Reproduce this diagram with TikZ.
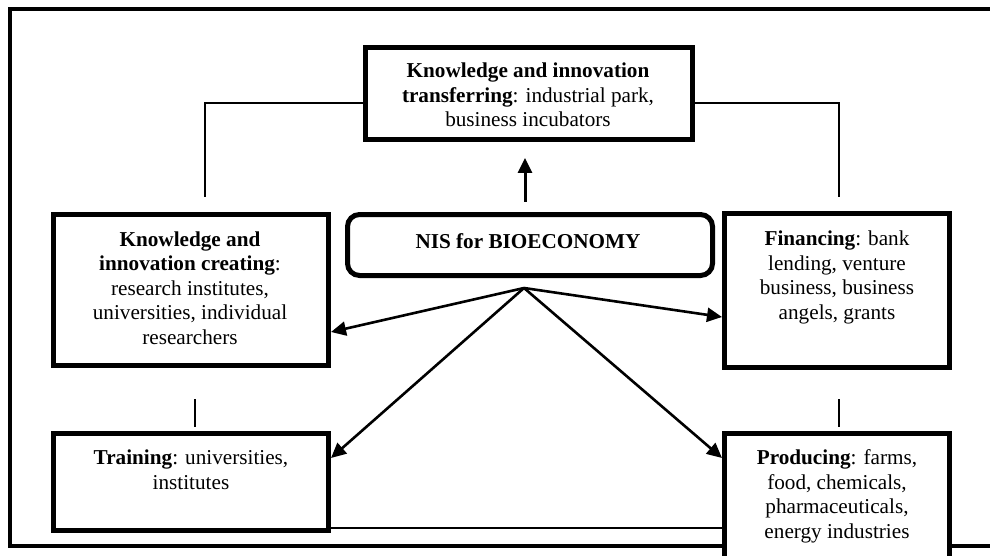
\documentclass[tikz,border=0pt]{standalone}
\usepackage{fontspec}
\setmainfont{Liberation Serif}
\usetikzlibrary{arrows.meta,calc}
\begin{document}
\begin{tikzpicture}[x=1pt,y=-1pt,
  box/.style={draw, line width=5pt, fill=white, inner sep=0pt},
  txt/.style={font=\fontsize{21.2}{24.5}\selectfont, align=center, anchor=base, inner sep=0pt},
  thinline/.style={line width=1.5pt},
  arr/.style={line width=2.6pt, -{Triangle[length=15pt,width=14pt]}},
  uparr/.style={line width=3pt, -{Triangle[length=15pt,width=14pt]}}]
\useasboundingbox (0,0) rectangle (990,556);
% outer frame (right side lies outside the picture)
\draw[line width=4pt] (1010,9) -- (9.5,9) -- (9.5,545.5) -- (1010,545.5);
% boxes
\node[box, minimum width=327pt, minimum height=92pt] (kt) at (529,93.5) {};
\node[box, minimum width=275pt, minimum height=151pt] (kc) at (191,290) {};
\node[box, rounded corners=12pt, minimum width=365pt, minimum height=61pt] (nis) at (530,245) {};
\node[box, minimum width=225pt, minimum height=154pt] (fi) at (837,290.5) {};
\node[box, minimum width=275pt, minimum height=97pt] (tr) at (191,482) {};
\node[box, minimum width=225pt, minimum height=184pt] (pr) at (837,525.5) {};
% texts (anchor = baseline of the last line)
\node[txt] (ktt) at (528,127) {\textbf{Knowledge and innovation}\\\textbf{transferring}: industrial park,\\business incubators};
\node[txt] (kct) at (190,344) {\textbf{Knowledge and}\\\textbf{innovation creating}:\\research institutes,\\universities, individual\\researchers};
\node[txt] (nist) at (528,248) {\textbf{NIS for BIOECONOMY}};
\node[txt] (fit) at (837,319) {\textbf{Financing}: bank\\lending, venture\\business, business\\angels, grants};
\node[txt] (trt) at (191,489) {\textbf{Training}: universities,\\institutes};
\node[txt] (prt) at (837,538) {\textbf{Producing}: farms,\\food, chemicals,\\pharmaceuticals,\\energy industries};
% connectors
\coordinate (hub) at (524,288);
\coordinate (l1) at (205,197);
\coordinate (r1) at (839,197);
\coordinate (l2a) at (195,399);
\coordinate (l2b) at (195,427);
\coordinate (r2a) at (839,399);
\coordinate (r2b) at (839,427);
\draw[thinline] ([yshift=-58pt]kt.north west) -| (l1);
\draw[thinline] ([yshift=-58pt]kt.north east) -| (r1);
\draw[thinline] (l2a) -- (l2b);
\draw[thinline] (r2a) -- (r2b);
\draw[thinline] ([yshift=-97pt]tr.north east) -- ([yshift=-97pt]pr.north west);
\draw[uparr] ([xshift=-5pt,yshift=10pt]nis.north) -- ([xshift=-4pt,yshift=-16pt]kt.south);
\draw[arr] (hub) -- ([yshift=-120pt]kc.north east);
\draw[arr] (hub) -- ([yshift=-27pt]tr.north east);
\draw[arr] (hub) -- ([yshift=-106pt]fi.north west);
\draw[arr] (hub) -- ([yshift=-27pt]pr.north west);
\end{tikzpicture}
\end{document}
